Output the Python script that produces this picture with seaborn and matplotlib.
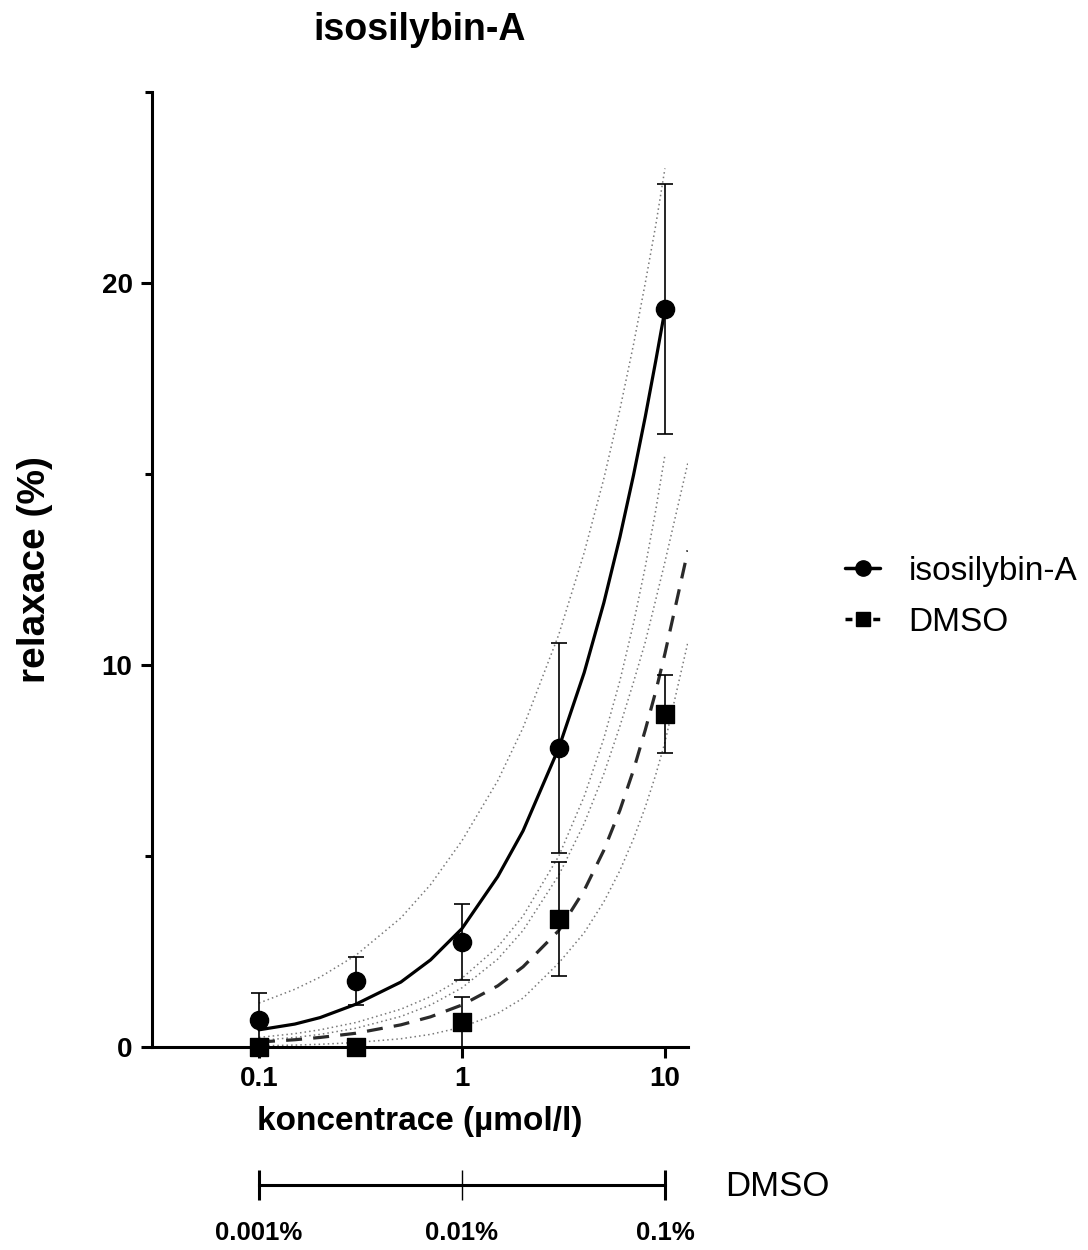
import numpy as np
import pandas as pd
import seaborn as sns
import matplotlib.pyplot as plt
from matplotlib.lines import Line2D
from matplotlib.ticker import NullLocator

# Data
conc = [0.1, 0.3, 1, 3, 10]

iso_mean = [0.71, 1.73, 2.75, 7.83, 19.32]
iso_err = [0.70, 0.63, 0.99, 2.74, 3.28]

dmso_mean = [0.0, 0.0, 0.65, 3.35, 8.72]
dmso_err = [0.0, 0.0, 0.66, 1.49, 1.02]

# fitted curves + 95% bands, sampled from the figure
curve_x = [0.1, 0.15, 0.2, 0.3, 0.5, 0.7, 1, 1.5, 2, 3, 4, 5, 6, 7, 8, 9, 10]
iso_fit = [0.45, 0.6, 0.77, 1.12, 1.70, 2.28, 3.1, 4.46, 5.66, 7.83,
           9.8, 11.63, 13.35, 14.97, 16.5, 17.95, 19.3]
iso_hi = [1.15, 1.51, 1.83, 2.4, 3.38, 4.25, 5.4, 6.97, 8.36, 10.8,
          12.94, 14.88, 16.69, 18.39, 20.0, 21.5, 23.0]
iso_lo = [0.25, 0.35, 0.45, 0.64, 0.99, 1.32, 1.8, 2.62, 3.43, 5.0,
          6.56, 8.08, 9.59, 11.09, 12.57, 14.04, 15.5]

dmso_x = [0.1, 0.15, 0.2, 0.3, 0.5, 0.7, 1, 1.5, 2, 3, 4, 5, 6, 7, 8, 9, 10, 12.98]
dmso_fit = [0.13, 0.19, 0.25, 0.36, 0.58, 0.79, 1.1, 1.6, 2.1, 3.05,
            4.1, 5.15, 6.2, 7.25, 8.3, 9.3, 10.3, 13.0]
dmso_hi = [0.17, 0.25, 0.33, 0.49, 0.8, 1.1, 1.55, 2.3, 3.05, 4.5,
           5.85, 7.15, 8.4, 9.55, 10.6, 11.7, 12.7, 15.3]
dmso_lo = [0.03, 0.05, 0.071, 0.117, 0.216, 0.33, 0.52, 0.88, 1.28, 2.2,
           2.99, 3.8, 4.62, 5.45, 6.28, 7.12, 7.98, 10.6]

x_ticks = [0.1, 1, 10]
x_ticklabels = ['0.1', '1', '10']
dmso_ticklabels = ['0.001%', '0.01%', '0.1%']

sns.set_style("ticks")
plt.rcParams['font.family'] = ['Liberation Sans', 'DejaVu Sans']
plt.rcParams.update({
    'text.color': 'black', 'axes.labelcolor': 'black', 'axes.edgecolor': 'black',
    'xtick.color': 'black', 'ytick.color': 'black',
})

fig = plt.figure(figsize=(10.88, 12.5), dpi=100)
ax = fig.add_axes([0.1397, 0.1624, 0.4926, 0.764])

dot = (0, (1, 2))
band_kw = dict(color='#7a7a7a', linewidth=1.1, linestyle=dot, ax=ax, zorder=1)
sns.lineplot(x=curve_x, y=iso_hi, **band_kw)
sns.lineplot(x=curve_x, y=iso_lo, **band_kw)
sns.lineplot(x=dmso_x, y=dmso_hi, **band_kw)
sns.lineplot(x=dmso_x, y=dmso_lo, **band_kw)

sns.lineplot(x=curve_x, y=iso_fit, color='black', linewidth=2.3, ax=ax, zorder=3)
sns.lineplot(x=dmso_x, y=dmso_fit, color='#2a2a2a', linewidth=2.3,
             linestyle=(0, (5, 3.5)), ax=ax, zorder=3)

ax.errorbar(conc, iso_mean, yerr=iso_err, fmt='none', ecolor='black',
            elinewidth=1.2, capsize=6, capthick=1.2, zorder=4, clip_on=False)
ax.errorbar(conc, dmso_mean, yerr=dmso_err, fmt='none', ecolor='black',
            elinewidth=1.2, capsize=6, capthick=1.2, zorder=4, clip_on=False)

sns.scatterplot(x=conc, y=iso_mean, marker='o', s=170, color='black',
                edgecolor='black', ax=ax, zorder=5, clip_on=False)
sns.scatterplot(x=conc, y=dmso_mean, marker='s', s=150, color='black',
                edgecolor='black', ax=ax, zorder=5, clip_on=False)

ax.set_xscale('log')
ax.set_xlim(0.0297, 12.98)
ax.set_ylim(0, 25)
ax.set_xticks(x_ticks)
ax.set_xticklabels(x_ticklabels)
ax.xaxis.set_minor_locator(NullLocator())
ax.set_yticks([0, 10, 20])
ax.set_yticks([5, 15, 25], minor=True)

sns.despine(ax=ax)
for s in ['left', 'bottom']:
    ax.spines[s].set_linewidth(2.2)
ax.tick_params(axis='both', which='major', length=8, width=2.2, labelsize=20, pad=6)
ax.tick_params(axis='y', which='minor', length=5, width=2.2)
for lab in ax.get_xticklabels() + ax.get_yticklabels():
    lab.set_fontweight('bold')

ax.set_xlabel('koncentrace (µmol/l)', fontsize=24, fontweight='bold')
ax.xaxis.set_label_coords(0.5, -0.062)
ax.xaxis.label.set_va('top')
ax.set_ylabel('relaxace (%)', fontsize=28, fontweight='bold')
ax.yaxis.set_label_coords(-0.185, 0.5)

fig.text(420 / 1088, 1 - 30 / 1250, 'isosilybin-A', ha='center', va='center',
         fontsize=27, fontweight='bold')

# legend
handles = [
    Line2D([], [], color='black', linewidth=2.5, marker='o', markersize=11),
    Line2D([], [], color='black', linewidth=2.5, linestyle=(0, (2, 2)),
           marker='s', markersize=10),
]
fig.legend(handles, ['isosilybin-A', 'DMSO'], loc='center left',
           bbox_to_anchor=(845 / 1088, 1 - 597 / 1250), frameon=False,
           fontsize=24, handlelength=1.05, handletextpad=0.85,
           labelspacing=0.6, borderpad=0, borderaxespad=0)

# DMSO concentration scale under the x axis
ax2 = fig.add_axes([0.1397, 0.052, 0.4926, 0.0001])
ax2.set_xscale('log')
ax2.set_xlim(0.0297, 12.98)
ax2.patch.set_visible(False)
ax2.yaxis.set_visible(False)
for s in ['left', 'right', 'top']:
    ax2.spines[s].set_visible(False)
ax2.spines['bottom'].set_bounds(0.1, 10)
ax2.spines['bottom'].set_linewidth(2.2)
ax2.set_xticks(x_ticks)
ax2.set_xticklabels(dmso_ticklabels)
ax2.xaxis.set_minor_locator(NullLocator())
ax2.tick_params(axis='x', direction='inout', length=22, width=2.2,
                labelsize=18.5, pad=15)
for lab in ax2.get_xticklabels():
    lab.set_fontweight('bold')
ax2.xaxis.get_major_ticks()[1].tick1line.set_markeredgewidth(1.0)

fig.text(725 / 1088, 1 - 1187 / 1250, 'DMSO', ha='left', va='center',
         fontsize=25, family=['Liberation Sans Narrow', 'Liberation Sans'])

fig.savefig('out.png', dpi=100)
